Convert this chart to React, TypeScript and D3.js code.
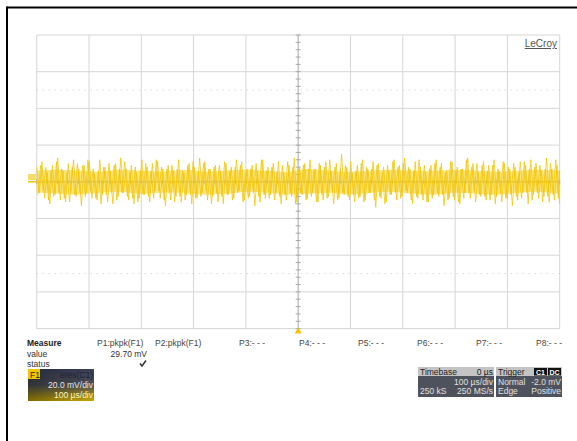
import React from "react";
import * as d3 from "d3";

// time axis: 100 µs/div, 10 divisions; vertical: 20 mV/div, 8 divisions
const timeDomain = [-500, 500];
const voltDomain = [-80, 80];
const xDivs = 10;
const yDivs = 8;

// hand-read spike samples (mV), one every 5 µs
const spikes = [
  8, -6, 11, -9, 5, -12, 9, -7, 13, -10,
  6, -11, 10, -5, 12, -8, 7, -13, 9, -6,
  11, -9, 4, -10, 12, -7, 8, -11, 6, -12,
  10, -8, 13, -6, 7, -10, 9, -12, 5, -9,
  12, -7, 8, -11, 10, -5, 11, -9, 7, -13,
  9, -10, 6, -8, 12, -11, 5, -7, 10, -12,
  8, -9, 13, -6, 11, -10, 7, -8, 9, -11,
  6, -12, 10, -7, 8, -9, 12, -5, 11, -10,
  7, -8, 9, -13, 6, -11, 12, -9, 8, -7,
  10, -6, 11, -12, 5, -10, 9, -8, 13, -11,
  8, -7, 10, -9, 12, -6, 7, -11, 9, -10,
  11, -8, 6, -12, 10, -9, 15, -7, 8, -10,
  5, -11, 9, -8, 12, -10, 7, -6, 11, -14,
  10, -9, 8, -11, 6, -7, 12, -10, 9, -8,
  13, -6, 7, -12, 11, -9, 8, -10, 5, -11,
  9, -7, 12, -8, 10, -13, 6, -9, 11, -10,
  8, -12, 7, -6, 13, -9, 10, -11, 5, -8,
  11, -10, 9, -7, 12, -8, 6, -11, 10, -9,
  7, -13, 8, -10, 11, -6, 9, -12, 12, -7,
  10, -9, 6, -8, 13, -11, 7, -10, 9, -12,
];

// second set of hand-read samples (mV), between the first ones
const spikes2 = [
  -7, 9, -5, 8, -10, 6, -8, 11, -6, 7,
  -9, 5, -11, 8, -7, 10, -6, 9, -8, 12,
  -5, 7, -9, 6, -12, 8, -7, 10, -6, 9,
  -10, 7, -6, 11, -8, 5, -9, 8, -11, 6,
  -7, 10, -8, 6, -9, 12, -5, 8, -10, 7,
  -6, 9, -11, 7, -8, 6, -10, 9, -7, 11,
  -9, 6, -8, 10, -5, 7, -12, 8, -6, 9,
  -8, 11, -7, 6, -10, 8, -6, 9, -11, 5,
  -9, 7, -6, 10, -8, 12, -7, 6, -9, 8,
  -10, 5, -8, 9, -7, 11, -6, 8, -12, 7,
  -6, 9, -10, 7, -8, 6, -11, 10, -7, 8,
  -9, 12, -5, 8, -10, 7, -6, 9, -8, 11,
  -7, 6, -9, 10, -11, 8, -6, 7, -10, 9,
  -8, 5, -12, 9, -7, 11, -6, 8, -9, 10,
  -5, 8, -10, 6, -8, 12, -7, 9, -11, 7,
  -9, 10, -6, 8, -7, 5, -10, 11, -8, 6,
  -11, 7, -9, 12, -6, 8, -5, 10, -7, 9,
  -8, 6, -10, 9, -12, 7, -6, 11, -9, 8,
  -7, 10, -8, 5, -9, 11, -6, 7, -10, 8,
  -6, 9, -11, 7, -8, 10, -7, 12, -9, 6,
];

// dense core envelope (mV), one every 40 µs
const coreUpper = [6, 6.5, 6, 5.5, 6.5, 6, 5.5, 6.5, 5.5, 6, 6.5, 6, 5.5, 7, 6, 5.5, 6, 6.5, 6, 6, 6.5, 6, 5.5, 6, 6.5, 6];
const coreLower = [-6, -6.5, -7, -6, -5.5, -6.5, -6, -6, -7, -6.5, -5.5, -6, -7, -6.5, -6, -7, -6, -5.5, -6.5, -7, -6, -6.5, -7, -6, -5.5, -6.5];

const measureHeaders = ["P1:pkpk(F1)", "P2:pkpk(F1)", "P3:- - -", "P4:- - -", "P5:- - -", "P6:- - -", "P7:- - -", "P8:- - -"];
const measureX = [97, 155, 239, 299, 358, 417, 476, 536];
const measureValue = "29.70 mV";

const GRID = { left: 36.7, right: 559.7, top: 35, bottom: 328.6 };
const FONT = "'Liberation Sans', Arial, sans-serif";
const YELLOW = "#f3c500";

export default function App() {
  const x = d3.scaleLinear().domain(timeDomain).range([GRID.left, GRID.right]);
  const y = d3.scaleLinear().domain(voltDomain).range([GRID.bottom, GRID.top]);

  const xt = d3.range(xDivs + 1).map((i) => timeDomain[0] + (i * (timeDomain[1] - timeDomain[0])) / xDivs);
  const yt = d3.range(yDivs + 1).map((i) => voltDomain[0] + (i * (voltDomain[1] - voltDomain[0])) / yDivs);
  const xMinor = d3.range(xDivs * 5 + 1).map((i) => timeDomain[0] + (i * (timeDomain[1] - timeDomain[0])) / (xDivs * 5));
  const yMinor = d3.range(yDivs * 5 + 1).map((i) => voltDomain[0] + (i * (voltDomain[1] - voltDomain[0])) / (yDivs * 5));

  const spikeStep = (timeDomain[1] - timeDomain[0]) / (spikes.length - 1);
  const spikeLine = d3
    .line<number>()
    .x((_, i) => x(timeDomain[0] + i * spikeStep))
    .y((d) => y(d));
  const spikeLine2 = d3
    .line<number>()
    .x((_, i) => x(Math.min(timeDomain[1], timeDomain[0] + (i + 0.5) * spikeStep)))
    .y((d) => y(d));

  const coreStep = (timeDomain[1] - timeDomain[0]) / (coreUpper.length - 1);
  const coreArea = d3
    .area<number>()
    .x((_, i) => x(timeDomain[0] + i * coreStep))
    .y0((_, i) => y(coreLower[i]))
    .y1((d) => y(d))
    .curve(d3.curveCatmullRom);

  const cx = x(0);
  const cy = y(0);

  return (
    <svg width={577} height={441} style={{ position: "absolute", left: 0, top: 0, background: "#fff" }} fontFamily={FONT}>
      <rect x={0} y={0} width={577} height={441} fill="#fff" />
      {/* outer frame */}
      <line x1={7} y1={7.5} x2={577} y2={7.5} stroke="#000" strokeWidth={2} />
      <line x1={7} y1={6.5} x2={7} y2={441} stroke="#000" strokeWidth={2} />

      {/* grid */}
      {xt.map((t, i) => (
        <line key={"gx" + i} x1={x(t)} x2={x(t)} y1={GRID.top} y2={GRID.bottom} stroke="#d6d6d6" strokeWidth={1} />
      ))}
      {yt.map((v, i) => (
        <line key={"gy" + i} x1={GRID.left} x2={GRID.right} y1={y(v)} y2={y(v)} stroke="#d6d6d6" strokeWidth={1} />
      ))}
      {[50, -50].map((v) => (
        <line key={"dot" + v} x1={GRID.left} x2={GRID.right} y1={y(v)} y2={y(v)} stroke="#c8c8c8" strokeWidth={1} strokeDasharray="1,5" />
      ))}
      {/* center ticks */}
      <line x1={cx} x2={cx} y1={GRID.top} y2={GRID.bottom} stroke="#b8b8b8" strokeWidth={1} />
      <line x1={GRID.left} x2={GRID.right} y1={cy} y2={cy} stroke="#b8b8b8" strokeWidth={1} />
      {yMinor.map((v, i) => (
        <line key={"ty" + i} x1={cx - 2.5} x2={cx + 2.5} y1={y(v)} y2={y(v)} stroke="#a8a8a8" strokeWidth={1} />
      ))}
      {xMinor.map((t, i) => (
        <line key={"tx" + i} x1={x(t)} x2={x(t)} y1={cy - 2.5} y2={cy + 2.5} stroke="#a8a8a8" strokeWidth={1} />
      ))}

      {/* waveform */}
      <path d={coreArea(coreUpper) || ""} fill="#f6cf20" opacity={0.55} />
      <path d={spikeLine2(spikes2) || ""} fill="none" stroke={YELLOW} strokeWidth={0.9} opacity={0.85} />
      <path d={spikeLine(spikes) || ""} fill="none" stroke={YELLOW} strokeWidth={0.9} opacity={0.85} />

      {/* trace marker */}
      <rect x={28} y={174} width={8} height={6} fill={YELLOW} opacity={0.6} />
      <line x1={28} x2={GRID.left} y1={cy} y2={cy} stroke={YELLOW} strokeWidth={1.5} />

      {/* trigger marker */}
      <path d={`M${cx - 3.5},${GRID.bottom + 5} L${cx},${GRID.bottom - 1} L${cx + 3.5},${GRID.bottom + 5} Z`} fill={YELLOW} />

      {/* LeCroy */}
      <text x={557} y={47} textAnchor="end" fontSize={10} fill="#555" textDecoration="underline">LeCroy</text>

      {/* measure table */}
      <text x={27} y={346} fontSize={8.5} fontWeight="bold" fill="#222">Measure</text>
      <text x={27} y={356.5} fontSize={8.5} fill="#333">value</text>
      <text x={27} y={366.5} fontSize={8.5} fill="#333">status</text>
      {measureHeaders.map((h, i) => (
        <text key={h} x={measureX[i]} y={346} fontSize={8.5} fill="#444">{h}</text>
      ))}
      <text x={147} y={356.5} textAnchor="end" fontSize={8.5} fill="#333">{measureValue}</text>
      <path d="M140,363.5 L142,366 L146,360.5" fill="none" stroke="#333" strokeWidth={1.5} />

      {/* F1 box */}
      <defs>
        <linearGradient id="f1g" x1="0" y1="0" x2="0" y2="1">
          <stop offset="0" stopColor="#3a4058" />
          <stop offset="0.5" stopColor="#4c4f56" />
          <stop offset="1" stopColor="#c9a800" />
        </linearGradient>
        <linearGradient id="f1h" x1="0" y1="0" x2="1" y2="0">
          <stop offset="0" stopColor="#000" stopOpacity={0.35} />
          <stop offset="1" stopColor="#000" stopOpacity={0} />
        </linearGradient>
      </defs>
      <rect x={28} y={369} width={66} height={32} fill="url(#f1g)" />
      <rect x={28} y={369} width={66} height={32} fill="url(#f1h)" />
      <rect x={28} y={369} width={12} height={10} fill={YELLOW} />
      <text x={30} y={377.5} fontSize={8.5} fill="#222">F1</text>
      <text x={93} y={377.5} textAnchor="end" fontSize={8.5} fill="#223">eres(C1)</text>
      <text x={93} y={388} textAnchor="end" fontSize={8.5} fill="#e8e8e8">20.0 mV/div</text>
      <text x={93} y={398} textAnchor="end" fontSize={8.5} fill="#fff6c0">100 µs/div</text>

      {/* Timebase box */}
      <rect x={418} y={367} width={76} height={30} fill="#4e525c" />
      <rect x={418} y={367} width={76} height={9} fill="#c4c4c4" />
      <text x={420} y={375} fontSize={8.5} fill="#222">Timebase</text>
      <text x={493} y={375} textAnchor="end" fontSize={8.5} fill="#222">0 µs</text>
      <text x={493} y={385} textAnchor="end" fontSize={8.5} fill="#e0e0e0">100 µs/div</text>
      <text x={420} y={394} fontSize={8.5} fill="#e0e0e0">250 kS</text>
      <text x={493} y={394} textAnchor="end" fontSize={8.5} fill="#e0e0e0">250 MS/s</text>

      {/* Trigger box */}
      <rect x={496} y={367} width={66} height={30} fill="#4e525c" />
      <rect x={496} y={367} width={66} height={9} fill="#c4c4c4" />
      <text x={498} y={375} fontSize={8.5} fill="#222">Trigger</text>
      <rect x={534} y={368} width={13} height={7.5} fill="#111" />
      <text x={540.5} y={374.5} textAnchor="middle" fontSize={7} fontWeight="bold" fill="#fff">C1</text>
      <rect x={548} y={368} width={13} height={7.5} fill="#111" />
      <text x={554.5} y={374.5} textAnchor="middle" fontSize={7} fontWeight="bold" fill="#fff">DC</text>
      <text x={498} y={385} fontSize={8.5} fill="#e0e0e0">Normal</text>
      <text x={561} y={385} textAnchor="end" fontSize={8.5} fill="#e0e0e0">-2.0 mV</text>
      <text x={498} y={394} fontSize={8.5} fill="#e0e0e0">Edge</text>
      <text x={561} y={394} textAnchor="end" fontSize={8.5} fill="#e0e0e0">Positive</text>
    </svg>
  );
}
